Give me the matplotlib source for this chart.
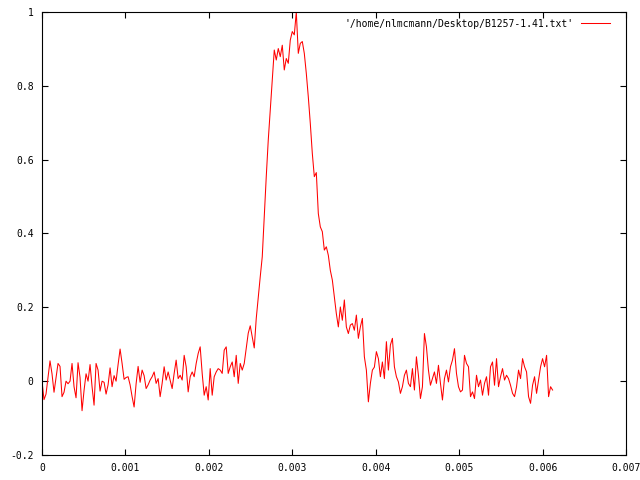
import numpy as np
import matplotlib
matplotlib.use('Agg')
import matplotlib.pyplot as plt
from matplotlib.ticker import FormatStrFormatter, MultipleLocator

plt.rcParams['font.family'] = ['DejaVu Sans Mono']
plt.rcParams['axes.unicode_minus'] = False

# Sampled signal (uniform sampling)
dt = 0.000024
amp = [
    0.0, -0.05, -0.035, 0.01, 0.055, 0.02, -0.03, 0.01, 0.048, 0.04,
    -0.042, -0.03, 0.0, -0.007, 0.0, 0.048, -0.015, -0.045, 0.05, 0.01,
    -0.08, -0.025, 0.02, 0.0, 0.045, -0.015, -0.065, 0.048, 0.03, -0.027,
    0.0, -0.003, -0.035, -0.01, 0.036, -0.015, 0.015, 0.0, 0.045, 0.087,
    0.048, 0.005, 0.01, 0.012, -0.01, -0.042, -0.07, -0.007, 0.04, -0.003,
    0.03, 0.015, -0.02, -0.01, 0.003, 0.012, 0.025, -0.006, 0.007, -0.042,
    -0.006, 0.039, 0.003, 0.025, 0.003, -0.02, 0.021, 0.057, 0.007, 0.016,
    0.003, 0.07, 0.039, -0.029, 0.012, 0.025, 0.012, 0.048, 0.075, 0.093,
    0.021, -0.038, -0.015, -0.051, 0.034, -0.038, 0.012, 0.025, 0.034, 0.03,
    0.021, 0.084, 0.093, 0.021, 0.039, 0.052, 0.012, 0.07, -0.006, 0.048,
    0.03, 0.048, 0.088, 0.13, 0.15, 0.12, 0.09, 0.17, 0.228, 0.283,
    0.337, 0.445, 0.554, 0.653, 0.734, 0.816, 0.897, 0.87, 0.901, 0.879,
    0.91, 0.843, 0.874, 0.861, 0.924, 0.947, 0.938, 1.0, 0.888, 0.915,
    0.92, 0.888, 0.834, 0.77, 0.698, 0.617, 0.554, 0.565, 0.454, 0.418,
    0.405, 0.355, 0.364, 0.341, 0.30, 0.274, 0.228, 0.183, 0.147, 0.201,
    0.165, 0.22, 0.147, 0.129, 0.152, 0.156, 0.138, 0.179, 0.116, 0.147,
    0.17, 0.066, 0.03, -0.056, -0.006, 0.03, 0.038, 0.08, 0.061, 0.012,
    0.052, 0.007, 0.107, 0.03, 0.098, 0.116, 0.039, 0.012, -0.002, -0.033,
    -0.015, 0.016, 0.03, -0.006, -0.015, 0.034, -0.024, 0.066, 0.016, -0.047,
    -0.015, 0.129, 0.093, 0.03, -0.011, 0.007, 0.025, -0.006, 0.043, -0.006,
    -0.051, 0.007, 0.03, -0.002, 0.039, 0.057, 0.088, 0.021, -0.015, -0.029,
    -0.024, 0.07, 0.048, 0.039, -0.042, -0.029, -0.047, 0.016, -0.015, 0.003,
    -0.038, -0.006, 0.012, -0.038, 0.039, 0.052, -0.011, 0.061, -0.015, 0.012,
    0.034, 0.003, 0.016, 0.007, -0.011, -0.033, -0.042, -0.015, 0.03, 0.007,
    0.061, 0.039, 0.025, -0.042, -0.06, -0.011, 0.012, -0.033, 0.003, 0.039,
    0.061, 0.039, 0.07, -0.042, -0.015, -0.024,
]
t = np.arange(len(amp)) * dt

label = "'/home/nlmcmann/Desktop/B1257-1.41.txt'"

fig = plt.figure(figsize=(6.4, 4.8), dpi=100)
ax = fig.add_axes([42 / 640, 25 / 480, 584 / 640, 443 / 480])

ax.plot(t, amp, color='#ff0000', linewidth=0.75, label=label)

ax.set_xlim(0, 0.007)
ax.set_ylim(-0.2, 1.0)
ax.xaxis.set_major_locator(MultipleLocator(0.001))
ax.yaxis.set_major_locator(MultipleLocator(0.2))
ax.xaxis.set_major_formatter(FormatStrFormatter('%g'))
ax.yaxis.set_major_formatter(FormatStrFormatter('%g'))

ax.tick_params(direction='in', length=4, width=0.8, top=True, right=True,
               labelsize=7, pad=6)
for s in ax.spines.values():
    s.set_linewidth(0.8)

ax.legend(loc='upper right', frameon=False, fontsize=7, markerfirst=False,
          handlelength=3, handletextpad=0.8, borderaxespad=0.3,
          bbox_to_anchor=(0.985, 1.0))

fig.savefig('out.png', dpi=100)
